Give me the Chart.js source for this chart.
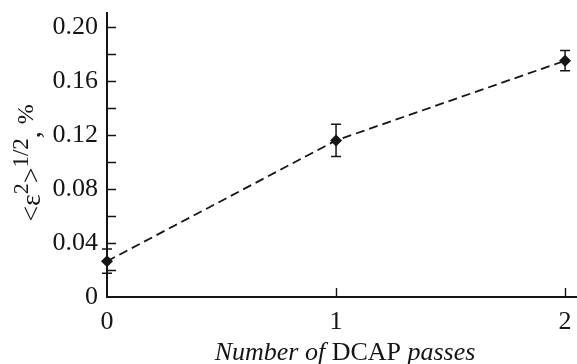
<!DOCTYPE html>
<html><head><meta charset="utf-8">
<script src="https://cdn.jsdelivr.net/npm/chart.js@4"></script>
<style>html,body{margin:0;padding:0;background:#fff}#wrap{width:577px;height:364px}</style>
</head><body><div id="wrap"><canvas id="c" width="577" height="364"></canvas></div>
<script>
const passes = [0, 1, 2];
const strain = [0.0265, 0.116, 0.175];
const strainErr = [0.009, 0.012, 0.0075];
const yTickValues = [0, 0.04, 0.08, 0.12, 0.16, 0.20];
const yMinorTickValues = [0.02, 0.04, 0.06, 0.08, 0.10, 0.12, 0.14, 0.16, 0.18, 0.20];
const xTickValues = [0, 1, 2];
const xTickMarks = [1, 2];

const FONT = "'Liberation Serif', 'Times New Roman', serif";
const INK = '#151515';

const decor = {
  id: 'decor',
  afterDatasetsDraw(chart) {
    const ctx = chart.ctx, a = chart.chartArea;
    const xs = chart.scales.x, ys = chart.scales.y;
    ctx.save();
    ctx.strokeStyle = INK;
    ctx.lineWidth = 2;
    ctx.beginPath();
    ctx.moveTo(a.left, a.top); ctx.lineTo(a.left, a.bottom);
    ctx.moveTo(a.left - 1, a.bottom); ctx.lineTo(a.right, a.bottom);
    ctx.stroke();
    ctx.lineWidth = 1.4;
    ctx.beginPath();
    yMinorTickValues.forEach(v => {
      const y = Math.round(ys.getPixelForValue(v)) + 0.5;
      ctx.moveTo(a.left, y); ctx.lineTo(a.left + 9, y);
    });
    xTickMarks.forEach(v => {
      const x = Math.round(xs.getPixelForValue(v)) + 0.5;
      ctx.moveTo(x, a.bottom); ctx.lineTo(x, a.bottom - 9);
    });
    ctx.stroke();
    ctx.lineWidth = 1.5;
    ctx.beginPath();
    passes.forEach((p, i) => {
      const x = xs.getPixelForValue(p);
      const y1 = ys.getPixelForValue(strain[i] + strainErr[i]);
      const y2 = ys.getPixelForValue(strain[i] - strainErr[i]);
      ctx.moveTo(x, y1); ctx.lineTo(x, y2);
      ctx.moveTo(x - 5, y1); ctx.lineTo(x + 5, y1);
      ctx.moveTo(x - 5, y2); ctx.lineTo(x + 5, y2);
    });
    ctx.stroke();
    ctx.restore();
  },
  afterDraw(chart) {
    const ctx = chart.ctx, a = chart.chartArea;
    ctx.save();
    ctx.fillStyle = INK;
    ctx.textBaseline = 'alphabetic';
    ctx.textAlign = 'left';
    const parts = [
      {t: 'Number of ', f: 'italic 26px ' + FONT},
      {t: 'DCAP', f: '26px ' + FONT},
      {t: ' passes', f: 'italic 26px ' + FONT}
    ];
    let w = 0;
    parts.forEach(p => { ctx.font = p.f; p.w = ctx.measureText(p.t).width; w += p.w; });
    let x = (a.left + a.right) / 2 + 3 - w / 2;
    parts.forEach(p => { ctx.font = p.f; ctx.fillText(p.t, x, 360); x += p.w; });
    const yp = [
      {t: '<\u03b5', f: '28px ' + FONT, dy: 0},
      {t: '2', f: '22px ' + FONT, dy: -12},
      {t: '>', f: '28px ' + FONT, dy: 0},
      {t: '1/2', f: '23px ' + FONT, dy: -12},
      {t: ', ', f: '28px ' + FONT, dy: 0},
      {t: '%', f: '24px ' + FONT, dy: -7}
    ];
    w = 0;
    yp.forEach(p => { ctx.font = p.f; p.w = ctx.measureText(p.t).width; w += p.w; });
    ctx.translate(40, 163);
    ctx.rotate(-Math.PI / 2);
    x = -w / 2;
    yp.forEach(p => { ctx.font = p.f; ctx.fillText(p.t, x, p.dy); x += p.w; });
    ctx.restore();
  }
};

new Chart(document.getElementById('c'), {
  type: 'scatter',
  data: {
    datasets: [{
      data: passes.map((p, i) => ({x: p, y: strain[i]})),
      showLine: true,
      borderColor: INK,
      backgroundColor: INK,
      borderWidth: 1.8,
      borderDash: [9, 5],
      pointStyle: 'rectRot',
      pointRadius: 6,
      pointBorderWidth: 0,
      pointBackgroundColor: INK,
      clip: false
    }]
  },
  options: {
    responsive: false,
    animation: false,
    devicePixelRatio: 1,
    layout: {autoPadding: false, padding: {top: 12, left: 0, right: 0, bottom: 0}},
    plugins: {legend: {display: false}, tooltip: {enabled: false}},
    scales: {
      x: {
        type: 'linear', min: 0, max: 2.052,
        grid: {display: false, drawTicks: false},
        border: {display: false},
        afterFit(s) { s.height = 67; s.paddingLeft = 0; s.paddingRight = 0; },
        afterBuildTicks(s) { s.ticks = xTickValues.map(v => ({value: v})); },
        ticks: {
          padding: 10, color: INK, maxRotation: 0, autoSkip: false,
          font: {family: FONT, size: 26},
          callback: v => String(v)
        }
      },
      y: {
        type: 'linear', min: 0, max: 0.2111,
        grid: {display: false, drawTicks: false},
        border: {display: false},
        afterFit(s) { s.width = 107; s.paddingTop = 0; s.paddingBottom = 0; },
        afterBuildTicks(s) { s.ticks = yTickValues.map(v => ({value: v})); },
        ticks: {
          padding: 9, color: INK, autoSkip: false,
          font: {family: FONT, size: 26},
          callback: v => v === 0 ? '0' : v.toFixed(2)
        }
      }
    }
  },
  plugins: [decor]
});
</script>
</body></html>
